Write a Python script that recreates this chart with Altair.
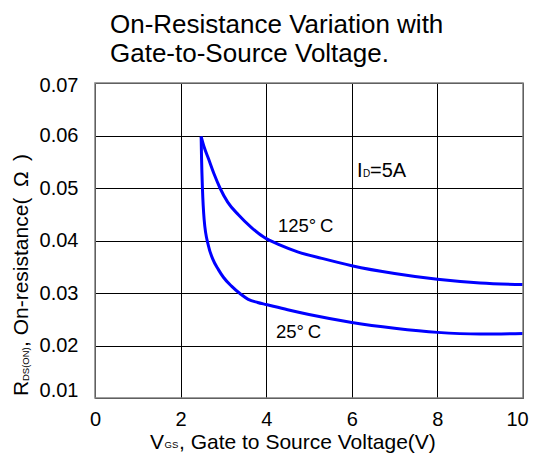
import altair as alt
import pandas as pd

# 125 °C curve
x_125 = [2.48, 2.55, 2.65, 2.78, 2.92, 3.1, 3.35, 3.65, 3.95, 4.3, 4.75, 5.3, 6.0, 7.0, 8.0, 9.0, 10.0]
y_125 = [0.0598, 0.0578, 0.0556, 0.0527, 0.0500, 0.0473, 0.0449, 0.0425, 0.0406, 0.0392, 0.0378, 0.0366,
         0.0352, 0.0337, 0.0326, 0.0319, 0.0316]
# 25 °C curve
x_25 = [2.48, 2.49, 2.51, 2.55, 2.65, 2.75, 2.88, 3.0, 3.19, 3.4, 3.58, 3.8, 4.0, 4.5, 5.0, 6.0, 7.0, 8.0, 9.0, 10.0]
y_25 = [0.0598, 0.0555, 0.0500, 0.0440, 0.0390, 0.0365, 0.0345, 0.0330, 0.0313, 0.0298, 0.0288, 0.0282,
        0.0278, 0.0268, 0.0259, 0.0244, 0.0233, 0.0225, 0.0222, 0.0223]

x_ticks = [0, 2, 4, 6, 8, 10]
y_ticks = [0.01, 0.02, 0.03, 0.04, 0.05, 0.06, 0.07]

W, H = 428, 315
FONT = "Liberation Sans"

rows = []
for i, (x, y) in enumerate(zip(x_125, y_125)):
    rows.append({"series": "125", "i": i, "vgs": x, "r": y})
for i, (x, y) in enumerate(zip(x_25, y_25)):
    rows.append({"series": "25", "i": i, "vgs": x, "r": y})
df = pd.DataFrame(rows)

lines = alt.Chart(df).mark_line(color="#0000FF", strokeWidth=3, interpolate="monotone").encode(
    x=alt.X("vgs:Q", scale=alt.Scale(domain=[0, 10], nice=False, zero=False),
            axis=alt.Axis(values=x_ticks, title=None, grid=True, gridColor="black", gridWidth=1,
                          gridOpacity=1, ticks=False, domain=False, labelFontSize=20, labelFont=FONT,
                          labelColor="black", labelPadding=11, labelFlush=False,
                          labelOffset={"condition": {"test": "datum.value > 9", "value": -6}, "value": 0})),
    y=alt.Y("r:Q", scale=alt.Scale(domain=[0.01, 0.07], nice=False, zero=False),
            axis=alt.Axis(values=y_ticks, format=".2f", title=None, grid=True, gridColor="black",
                          gridWidth=1, gridOpacity=1, ticks=False, domain=False, labelFontSize=20,
                          labelFont=FONT, labelColor="black", labelPadding=17, labelFlush=False,
                          labelOffset={"condition": [
                              {"test": "datum.value < 0.015", "value": -8},
                              {"test": "datum.value > 0.065", "value": 2}], "value": 0})),
    detail="series:N",
    order="i:Q",
)

one = pd.DataFrame({"a": [0]})


def txt(s, x, y, size, angle=0, align="left"):
    return alt.Chart(one).mark_text(text=s, fontSize=size, font=FONT, align=align,
                                    baseline="alphabetic", angle=angle, color="black").encode(
        x=alt.value(x), y=alt.value(y))


frame = alt.Chart(one).mark_rect(fill=None, stroke="#808080", strokeWidth=1.5).encode(
    x=alt.value(0), x2=alt.value(W), y=alt.value(0), y2=alt.value(H))

texts = [
    # title
    txt("On-Resistance Variation with", 15, -50, 26),
    txt("Gate-to-Source Voltage.", 15, -21, 26),
    # x title
    txt("V", 55, 366, 21),
    txt("GS", 69.5, 365, 9.5),
    txt(", Gate to Source Voltage(V)", 84, 366, 21),
    # y title (rotated)
    txt("R", -67, 313, 21, angle=270),
    txt("DS(ON)", -66, 298, 9.5, angle=270),
    txt(", On-resistance(\u2002Ω\u2002)", -67, 264, 21, angle=270),
    # annotations
    txt("I", 262, 94, 20),
    txt("D", 268, 94, 10),
    txt("=5A", 275, 94, 20),
    txt("125°\u2009C", 183, 149, 18.5),
    txt("25°\u2009C", 181, 255, 18.5),
]

chart = alt.layer(lines, frame, *texts).properties(
    width=W, height=H,
    autosize=alt.AutoSizeParams(type="none"),
    padding={"left": 87, "top": 75, "right": 6, "bottom": 56},
).configure_view(stroke=None)

chart.save("out.html", embed_options={"renderer": "svg", "actions": False})
